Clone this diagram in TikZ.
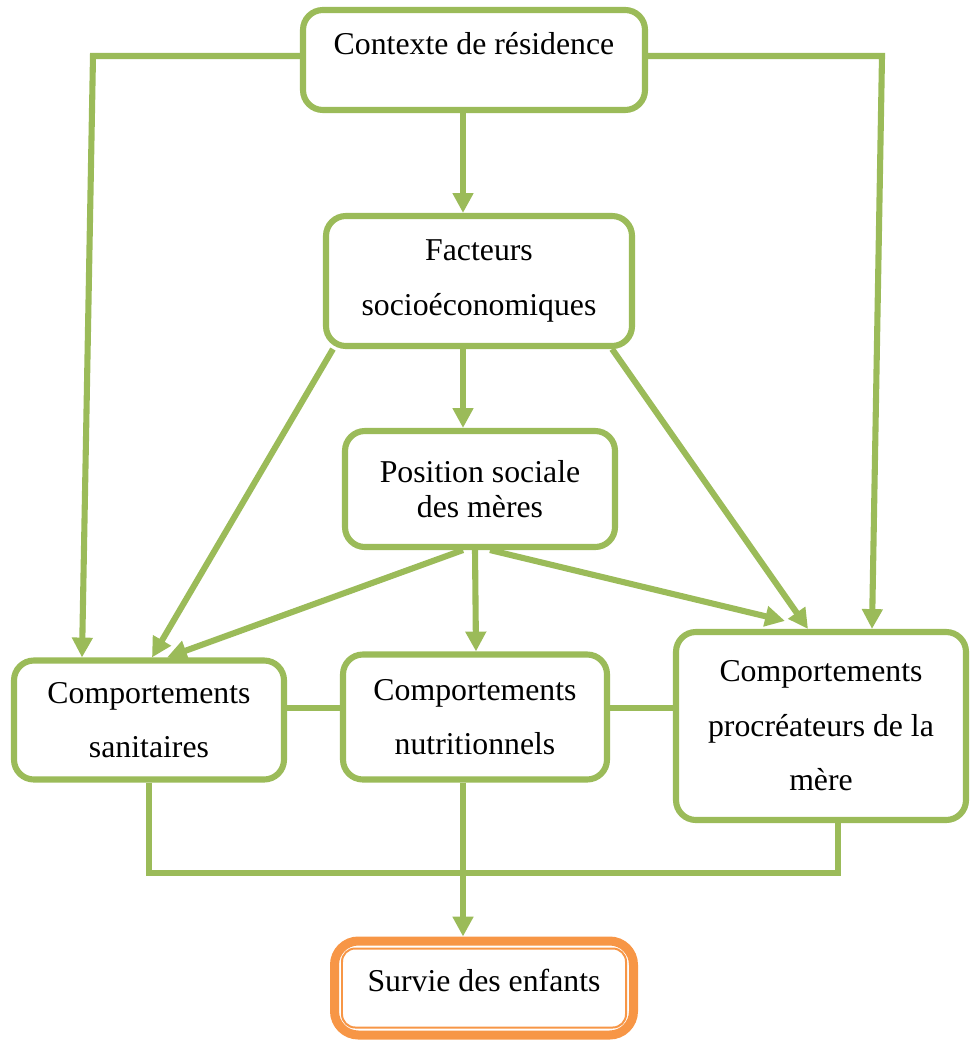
\documentclass[tikz,border=0pt]{standalone}
\usepackage{fontspec}
\setmainfont{Liberation Serif}
\usetikzlibrary{arrows.meta,calc}
\definecolor{boxgreen}{HTML}{9BBB59}
\definecolor{boxorange}{HTML}{F79646}

\begin{document}
\begin{tikzpicture}[x=0.3776pt, y=-0.3776pt,
  box/.style={draw=boxgreen, line width=2.3pt, rounded corners=7.5pt, fill=white, align=center, font=\fontsize{12pt}{20.6pt}\selectfont},
  boxsize/.style 2 args={minimum width=#1*0.3776pt, minimum height=#2*0.3776pt},
  link/.style={draw=boxgreen, line width=2.3pt},
  arr/.style={link, -{Triangle[length=7.5pt,width=7.5pt]}}]
\useasboundingbox (0,0) rectangle (971,1040);
% boxes
\node[box, boxsize={342}{100}, text height=8pt, text depth=11.8pt] (ctx) at (474,60) {Contexte de résidence};
\node[box, boxsize={306}{130}] (fac) at (479,281) {Facteurs\\socioéconomiques};
\node[box, boxsize={270}{116}, font=\fontsize{12pt}{13.2pt}\selectfont] (pos) at (480,489) {Position sociale\\des mères};
\node[box, boxsize={270}{119}] (san) at (149,720) {Comportements\\sanitaires};
\node[box, boxsize={264}{125}] (nut) at (475,717) {Comportements\\nutritionnels};
\node[box, boxsize={290}{188}] (pro) at (821,726) {Comportements\\procréateurs de la\\mère};
\node[draw=boxorange, line width=3.4pt, rounded corners=9pt, fill=white, boxsize={299}{94}, text height=8pt, text depth=5pt, font=\fontsize{12pt}{14pt}\selectfont] (sur) at (484,988) {Survie des enfants};
\draw[boxorange, line width=0.75pt, rounded corners=5pt] ($(sur.south west)+(12,-12)$) rectangle ($(sur.north east)+(-12,12)$);
% helper points
\coordinate (lbend) at (93,56);
\coordinate (rbend) at (882,56);
\coordinate (row) at (0,708);
\coordinate (bus) at (0,873);
\coordinate (prodrop) at ($(pro.south)+(17,0)$);
% arrows
\draw[arr] (ctx.west |- lbend) -- (lbend) -- ($(san.north)+(-67,0)$);
\draw[arr] (ctx.east |- rbend) -- (rbend) -- ($(pro.north)+(51,0)$);
\draw[arr] ($(ctx.south)+(-11,0)$) -- ($(fac.north)+(-16,0)$);
\draw[arr] ($(fac.south)+(-16,0)$) -- ($(pos.north)+(-17,0)$);
\draw[arr] ($(fac.south west)+(10,0)$) -- ($(san.north)+(3,0)$);
\draw[arr] ($(fac.south east)+(-23,0)$) -- ($(pro.north)+(-13,0)$);
\draw[arr] ($(pos.south)+(-17,0)$) -- ($(san.north)+(18,0)$);
\draw[arr] ($(pos.south)+(-5,0)$) -- ($(nut.north)+(1,0)$);
\draw[arr] ($(pos.south)+(10,0)$) -- ($(pro.north)+(-36,-8)$);
% links between behaviours
\draw[link] (san.east |- row) -- (nut.west |- row);
\draw[link] (nut.east |- row) -- (pro.west |- row);
\draw[link] (san.south) -- (san.south |- bus) -- (prodrop |- bus) -- (prodrop);
\draw[arr] ($(nut.south)+(-12,0)$) -- ($(sur.north)+(-21,0)$);
\end{tikzpicture}
\end{document}
